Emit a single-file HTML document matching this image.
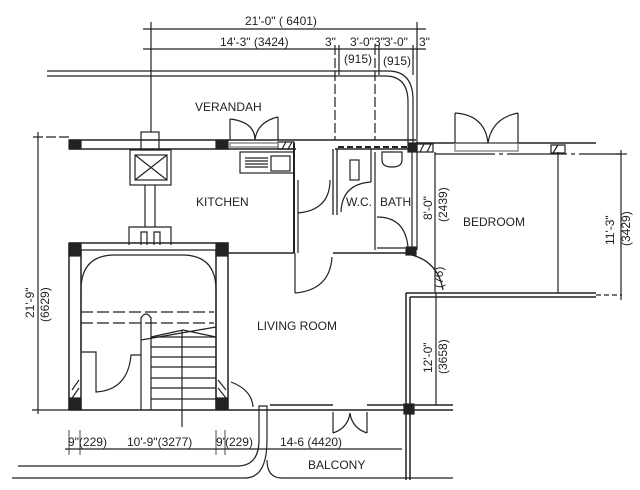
<!DOCTYPE html>
<html><head><style>
body{margin:0;background:#fff}
svg{display:block}
text{font-family:"Liberation Sans",sans-serif;fill:#222;stroke:none;font-size:12px}
</style></head><body>
<svg width="640" height="490" viewBox="0 0 640 490" stroke="#222" fill="none" stroke-width="1.2">
<!-- top dims -->
<line x1="143" y1="29" x2="426" y2="29"/>
<line x1="143" y1="49" x2="426" y2="49"/>
<line x1="151" y1="22" x2="151" y2="132"/>
<line x1="417" y1="22" x2="417" y2="143"/>
<line x1="335" y1="45" x2="335" y2="140" stroke-dasharray="10,3"/>
<line x1="339" y1="45" x2="339" y2="75"/>
<line x1="375" y1="45" x2="375" y2="140" stroke-dasharray="10,3"/>
<line x1="379" y1="45" x2="379" y2="75"/>
<line x1="413" y1="45" x2="413" y2="75"/>
<text x="245" y="25" font-size="11">21'-0" ( 6401)</text>
<text x="220" y="46" font-size="11">14'-3" (3424)</text>
<text x="325" y="46" font-size="10">3"</text>
<text x="350" y="46" font-size="10">3'-0"</text>
<text x="374" y="46" font-size="10">3"</text>
<text x="384" y="46" font-size="10">3'-0"</text>
<text x="419" y="46" font-size="10">3"</text>
<text x="344" y="63" font-size="10">(915)</text>
<text x="383" y="65" font-size="10">(915)</text>
<!-- verandah rail -->
<path d="M47 71 H388 Q413 71 413 100 V143"/>
<path d="M47 76 H385 Q408 76 408 102 V143"/>
<text x="195" y="111" font-size="12">VERANDAH</text>
<!-- main top wall -->
<path d="M69 140 H416 M416 143 H596 M69 149 H296 M335 149 H416" stroke-width="1.5"/>
<path d="M435 154 H620" stroke-width="1.3" stroke-dasharray="60,4,4,4"/>
<line x1="33" y1="137" x2="69" y2="137" stroke-dasharray="10,3"/>
<rect x="69" y="140" width="12" height="9" fill="#222"/>
<rect x="216" y="140" width="12" height="9" fill="#222"/>
<rect x="408" y="143" width="9" height="9" fill="#222"/>
<path d="M278 142 H294 V149 H278 Z M282 149 L286 142 M288 149 L292 142"/>
<path d="M416 144 H433 V152 H416 Z M420 152 L424 144 M427 152 L431 144"/>
<path d="M551 145 H565 V153 H551 Z M553 153 L558 145"/>
<path d="M338 147 H410" stroke-dasharray="6,3" stroke-width="2"/>
<path d="M455 143 H518 V151 H455 Z" stroke="#777"/>
<path d="M230 143 H278 V147 H230 Z" stroke="#777"/>
<!-- left dim -->
<line x1="38" y1="132" x2="38" y2="414"/>
<line x1="32" y1="410" x2="69" y2="410"/>
<text transform="translate(34,318) rotate(-90)" font-size="11">21'-9"</text>
<text transform="translate(49,322) rotate(-90)" font-size="11">(6629)</text>
<!-- chimney -->
<rect x="141" y="132" width="18" height="18"/>
<rect x="130" y="150" width="41" height="35"/>
<rect x="135" y="155" width="32" height="25"/>
<path d="M135 155 L167 180 M167 155 L135 180"/>
<path d="M145 185 V227 M155 185 V227"/>
<path d="M129 245 V227 H171 V245 M141 245 V232 H147 V245 M154 245 V232 H160 V245"/>
<!-- kitchen doors -->
<path d="M230 119 Q255 122 255 140 M278 117 Q257 122 255 140 M230 119 V140 M278 117 V140"/>
<rect x="240" y="152" width="54" height="21"/>
<rect x="271" y="156" width="19" height="15"/>
<path d="M245 158 H268 M245 161 H268 M245 164 H268 M245 167 H268"/>
<text x="196" y="206" font-size="12">KITCHEN</text>
<line x1="294" y1="143" x2="294" y2="253" stroke-width="2"/>
<line x1="298" y1="180" x2="298" y2="253"/>
<path d="M330 180 Q330 210 298 213"/>
<path d="M333 149 V215 M337 149 V215" stroke-width="1.3"/>
<!-- wc bath -->
<rect x="350" y="160" width="9" height="20"/>
<path d="M375 152 V250 M371 149 V182"/>
<path d="M341 212 Q342 184 371 182"/>
<path d="M382 152 H402 V160 Q402 167 392 167 Q382 167 382 160 Z"/>
<path d="M377 217 Q405 217 408 247"/>
<path d="M412 152 V250 M417 143 V250"/>
<text x="346" y="206" font-size="11">W.C.</text>
<text x="380" y="206" font-size="11">BATH</text>
<!-- bedroom -->
<path d="M455 113 Q485 115 488 143 M518 113 Q492 118 488 143 M455 113 V143 M518 113 V143"/>
<line x1="435" y1="152" x2="435" y2="293"/>
<line x1="558" y1="152" x2="558" y2="293"/>
<text x="463" y="226" font-size="11">BEDROOM</text>
<text transform="translate(432,220) rotate(-90)" font-size="11">8'-0"</text>
<text transform="translate(447,222) rotate(-90)" font-size="10">(2439)</text>
<text transform="translate(614,245) rotate(-90)" font-size="11">11'-3"</text>
<text transform="translate(630,246) rotate(-90)" font-size="10">(3429)</text>
<line x1="621" y1="150" x2="621" y2="300"/>
<line x1="615" y1="154" x2="627" y2="154"/>
<path d="M406 293 V480 M410 297 V480 M406 293 H596 M410 297 H596" stroke-width="1.5"/>
<line x1="596" y1="295" x2="622" y2="295" stroke-dasharray="5,3"/>
<!-- stair box -->
<path d="M69 243 H228 V410 M69 243 V410 M81 250 V410 M216 250 V410 M69 410 H228" stroke-width="1.5"/>
<line x1="81" y1="250" x2="216" y2="250"/>
<rect x="69" y="243" width="12" height="13" fill="#222"/><rect x="216" y="243" width="12" height="13" fill="#222"/>
<rect x="69" y="398" width="12" height="12" fill="#222"/><rect x="216" y="398" width="12" height="12" fill="#222"/>
<path d="M81 350 V290 Q81 255 115 255 H182 Q216 255 216 290 V400"/>
<path d="M81 312 H214 M81 323 H214" stroke-dasharray="12,4"/>
<path d="M151 337 H216 M151 347 H216 M151 357 H216 M151 367 H216 M151 378 H216 M151 388 H216 M151 399 H216"/>
<path d="M141 410 V318 Q146 310 151 318 V410"/>
<path d="M141 340 L216 327 M151 337 L183 330 L216 337"/>
<line x1="182" y1="330" x2="182" y2="427"/>
<path d="M81 352 H96 V392 Q128 390 131 355 H141"/>
<path d="M72 390 L79 380 M72 398 L79 388"/>
<path d="M218 380 L226 390 M218 388 L226 398"/>
<!-- living -->
<path d="M228 253 H294 M333 253 H408" stroke-width="1.5"/>
<path d="M377 248 H405"/>
<rect x="406" y="247" width="10" height="8" fill="#222"/>
<text x="257" y="330" font-size="12">LIVING ROOM</text>
<line x1="295" y1="253" x2="295" y2="293"/>
<path d="M295 293 Q330 290 332 257"/>
<path d="M412 255 Q438 262 443 290"/>
<text transform="translate(443,288) rotate(-90)" font-size="9">(76)</text>
<line x1="436" y1="293" x2="436" y2="405"/>
<text transform="translate(432,373) rotate(-90)" font-size="11">12'-0"</text>
<text transform="translate(447,374) rotate(-90)" font-size="10">(3658)</text>
<!-- bottom wall -->
<path d="M228 410 H453 M270 405 H333 M367 405 H453" stroke-width="1.5"/>
<rect x="404" y="404" width="10" height="10" fill="#222"/>
<path d="M333 412 V433 M367 412 V433 M333 433 Q348 428 350 413 M367 433 Q352 428 350 413"/>
<path d="M231 382 Q252 390 253 407"/>
<text x="68" y="446" font-size="10">9"(229)</text>
<text x="127" y="446" font-size="10">10'-9"(3277)</text>
<text x="216" y="446" font-size="10">9'(229)</text>
<text x="280" y="446" font-size="10">14-6 (4420)</text>
<line x1="65" y1="449" x2="402" y2="449"/>
<path d="M69 430 V455 M80 430 V455 M216 430 V455 M225 430 V455" stroke-width="0.8"/>
<path d="M18 466 H237 Q259 466 259 440 V406 H267 V440 Q267 478 245 478 H12"/>
<path d="M267 460 Q267 478 282 478 H453"/>
<text x="308" y="469" font-size="12">BALCONY</text>
</svg>
</body></html>
